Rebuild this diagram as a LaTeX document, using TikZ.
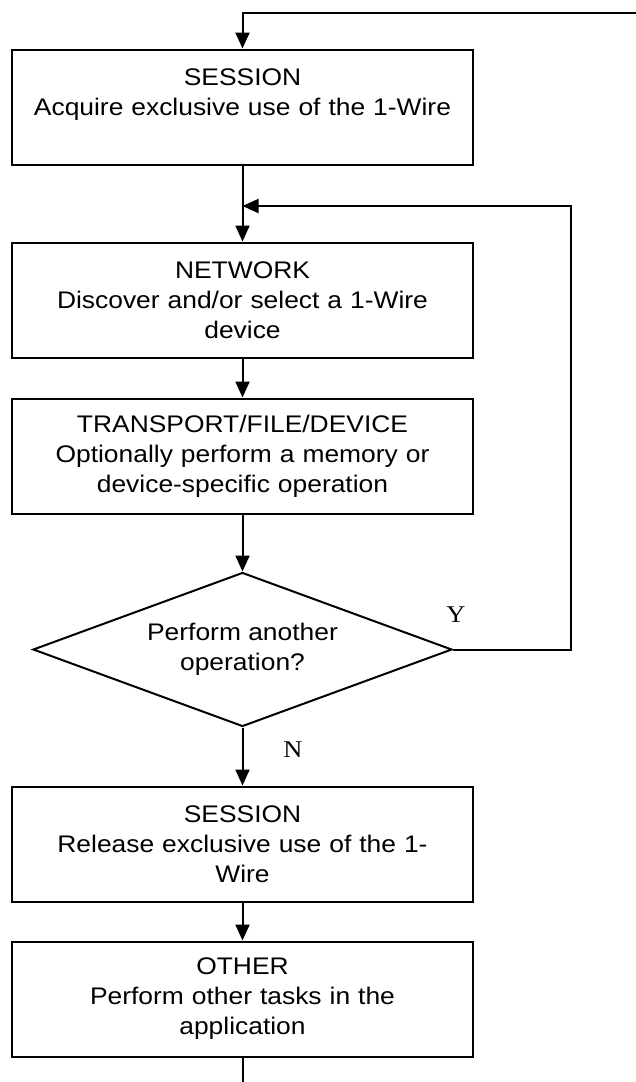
\documentclass[tikz,border=0pt]{standalone}
\usepackage{fontspec}
\setmainfont{Liberation Sans}[FakeStretch=1.1]
\newfontfamily\ynfont{Liberation Serif}[FakeStretch=1.1]
\usetikzlibrary{shapes.geometric,arrows.meta,positioning}

\begin{document}
\begin{tikzpicture}[
    x=1pt, y=-1pt,
    font=\fontsize{24}{30}\selectfont,
    line width=2pt,
    stage/.style={rectangle, draw, minimum width=461pt, minimum height=115pt, text width=455pt, align=center, inner sep=0pt},
    decision/.style={diamond, draw, aspect=2.7, minimum width=419pt, minimum height=154pt, inner sep=0pt, align=center},
    flow/.style={-{Triangle[length=16pt, width=14pt]}},
    yn/.style={font=\ynfont\fontsize{24}{24}\selectfont}
]
\useasboundingbox (0,0) rectangle (636,1082);

% Stages, top to bottom
\node [stage] (open) at (242.5,107) {SESSION\\Acquire exclusive use of the 1-Wire\\\mbox{}};
\node [stage, below=76pt of open] (net) {NETWORK\\Discover and/or select a 1-Wire\\device};
\node [stage, below=39pt of net] (trans) {TRANSPORT/FILE/DEVICE\\Optionally perform a memory or\\device-specific operation};
\node [decision, below=57pt of trans] (again) {Perform another\\operation?};
\node [stage, below=58pt of again] (close) {SESSION\\Release exclusive use of the 1-\\Wire};
\node [stage, below=38pt of close] (other) {OTHER\\Perform other tasks in the\\application};

% Branch labels
\node [yn] (yes) at (456,615) {Y};
\node [yn] (no) at (293,750) {N};

% Loose ends of the outer loop
\coordinate (entry) at (636,13);
\coordinate (exit) at (242.5,1082);
\coordinate (join) at (242.5,206);

% Main flow
\draw [flow] (entry) -| (open.north);
\draw [flow] (open) -- (net);
\draw [flow] (net) -- (trans);
\draw [flow] (trans) -- (again);
\draw [flow] (again) -- (close);
\draw [flow] (close) -- (other);
\draw (other) -- (exit);

% Repeat loop
\draw [flow] (again.east) -- ++(118,0) |- (join);

\end{tikzpicture}
\end{document}
